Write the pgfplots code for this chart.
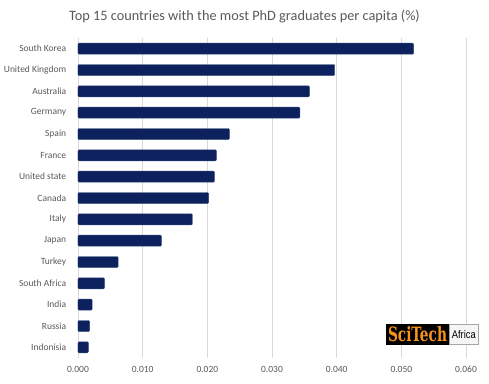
\documentclass[border=0pt]{standalone}
\usepackage{pgfplots}
\pgfplotsset{compat=1.18}
\usepackage{graphicx}
\usepackage{fontspec}
\setmainfont{Carlito}
\newfontfamily\logofont{DejaVu Serif Condensed}
\newfontfamily\africafont{Liberation Sans}
\definecolor{barnavy}{HTML}{0C215E}
\definecolor{txtgray}{HTML}{595959}
\definecolor{gridgray}{HTML}{D9D9D9}
\definecolor{logoorange}{HTML}{F7941D}
\begin{document}
\begin{tikzpicture}[x=1pt,y=1pt]
\useasboundingbox (0,0) rectangle (489,383);
\node[text=txtgray, font=\fontsize{14.3}{16}\selectfont] at (244.5,366) {Top 15 countries with the most PhD graduates per capita (\%)};
\begin{axis}[
  at={(78pt,25pt)}, anchor=south west,
  scale only axis, width=388pt, height=320pt,
  xmin=0, xmax=0.06, ymin=-0.5, ymax=14.5,
  y dir=reverse,
  xbar, bar width=11pt, bar shift=0pt,
  axis line style={draw=none},
  major tick style={draw=none},
  xmajorgrids, grid style={gridgray, line width=0.8pt},
  xtick={0,0.01,0.02,0.03,0.04,0.05,0.06},
  xticklabels={0.000,0.010,0.020,0.030,0.040,0.050,0.060},
  ytick={0,...,14},
  yticklabels={South Korea,United Kingdom,Australia,Germany,Spain,France,United state,Canada,Italy,Japan,Turkey,South Africa,India,Russia,Indonisia},
  ticklabel style={text=txtgray, font=\fontsize{9.5}{11}\selectfont},
  yticklabel style={xshift=-4pt},
  xticklabel style={yshift=-5pt},
  /pgf/number format/assume math mode=true,
  clip=false,
]
\addplot[fill=barnavy, draw=barnavy!85!white, line width=0.4pt, rounded corners=1pt] coordinates {
(0.0519,0) (0.0397,1) (0.0358,2) (0.0343,3) (0.0234,4) (0.0214,5) (0.0211,6) (0.0202,7) (0.0177,8) (0.0129,9) (0.0062,10) (0.0041,11) (0.0022,12) (0.0018,13) (0.0016,14)};
\end{axis}
% logo
\fill[black] (386,38) rectangle (449,59);
\draw[gray!70, fill=gray!8] (449,38.5) rectangle (478.5,58.5);
\node[text=logoorange, inner sep=0pt] at (417.5,48.5) {\resizebox{59pt}{15pt}{\logofont\bfseries SciTech}};
\node[text=black, inner sep=0pt] at (463.8,48.5) {\resizebox{24pt}{8pt}{\africafont Africa}};
\end{tikzpicture}
\end{document}
